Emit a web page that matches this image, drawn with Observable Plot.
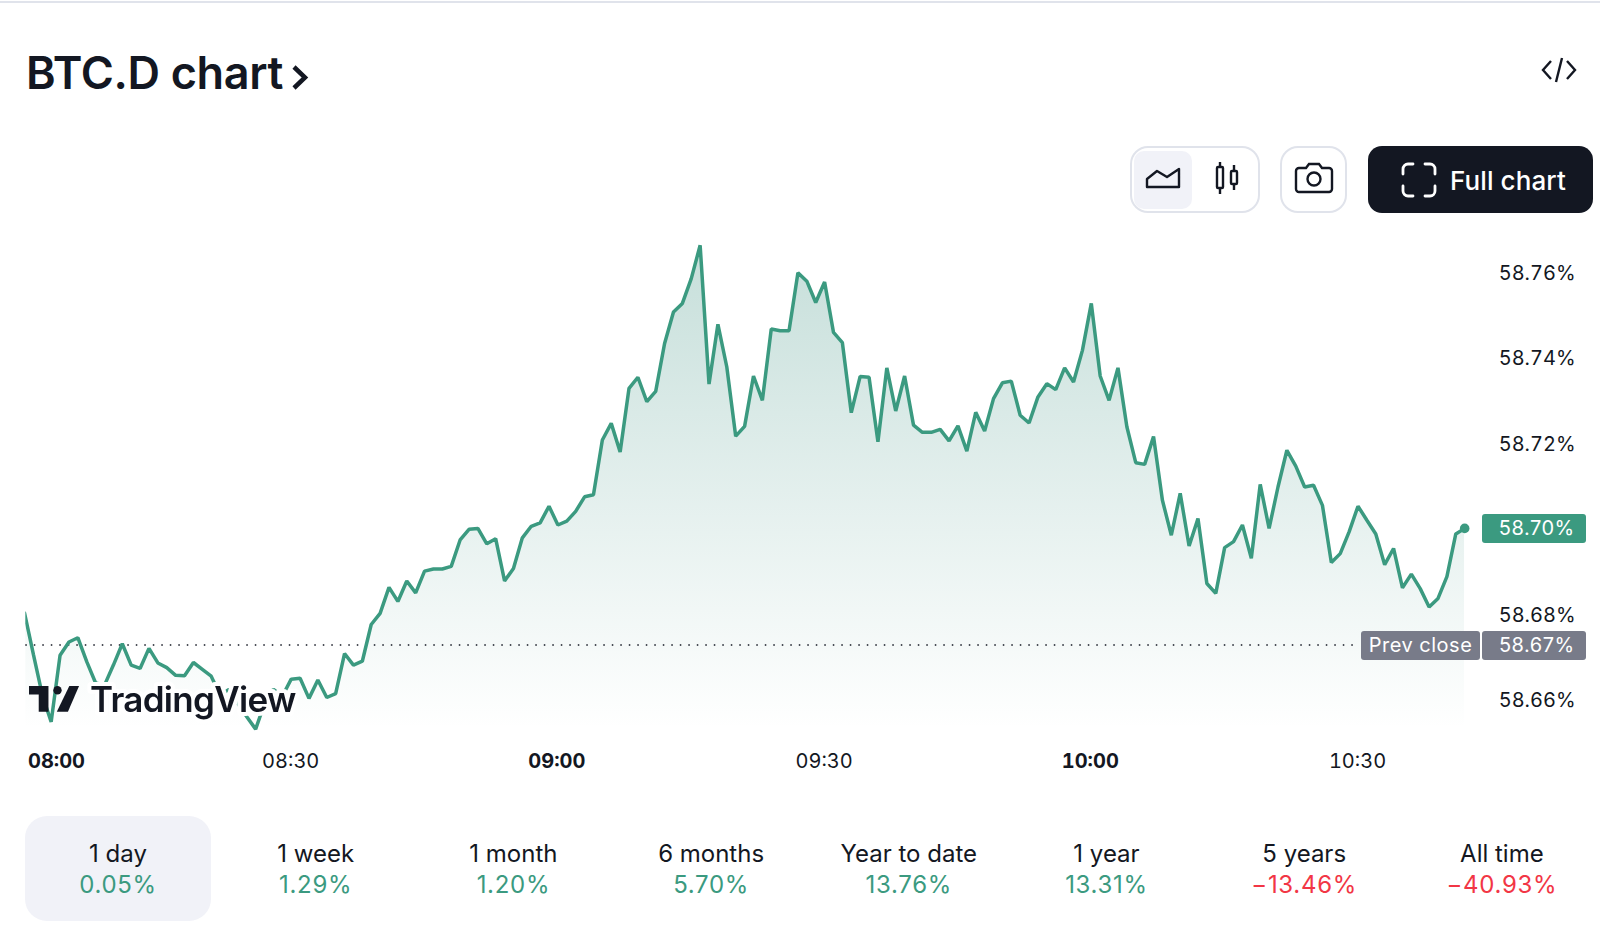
<!DOCTYPE html>
<html><head><meta charset="utf-8">
<script src="https://cdn.jsdelivr.net/npm/d3@7"></script>
<script src="https://cdn.jsdelivr.net/npm/@observablehq/plot@0.6"></script>
<style>
html,body{margin:0;padding:0;background:#fff;width:1600px;height:940px;overflow:hidden;font-family:Inter,"Noto Sans",sans-serif;color:#131722}
.abs{position:absolute}
#topline{left:0;top:1px;width:1600px;height:2px;background:#e0e3eb}
#title{left:26px;top:43px;font-size:45px;font-weight:600;line-height:60px;margin:0;letter-spacing:-0.35px;white-space:nowrap}
.box{border:2px solid #e0e3eb;border-radius:18px;box-sizing:border-box;background:#fff}
#full{left:1368px;top:146px;width:225px;height:67px;background:#131722;border-radius:14px;color:#fff}
#full span{position:absolute;left:82px;top:1px;line-height:67px;font-size:26px;font-weight:500;white-space:nowrap;letter-spacing:.1px}
#plot{left:0;top:230px}
.tag{position:absolute;color:#fff;font-size:20px;text-align:center;box-sizing:border-box;height:29px;line-height:29px;border-radius:3px;letter-spacing:.5px}
.tab{position:absolute;top:816px;width:186px;height:105px;text-align:center;font-size:24px;border-radius:22px}
.tab div:first-child{position:absolute;left:-20px;right:-20px;top:23px;line-height:30px;color:#131722}
.tab div:last-child{position:absolute;left:-20px;right:-20px;top:54px;line-height:30px;letter-spacing:.7px}
</style></head>
<body>
<div id="topline" class="abs"></div>
<h1 id="title" class="abs">BTC.D chart</h1>
<svg class="abs" style="left:290px;top:62px" width="22" height="30" viewBox="0 0 22 30" fill="none" stroke="#131722" stroke-width="4.5"><path d="M4 5l11 10.500L4 26"/></svg>
<svg class="abs" style="left:1540px;top:55px" width="38" height="30" viewBox="0 0 38 30" fill="none" stroke="#131722" stroke-width="2.4"><path d="M11 6L3 15l8 9M27 6l8 9-8 9M22 3l-6 24"/></svg>

<div class="abs box" style="left:1130px;top:146px;width:130px;height:67px"></div>
<div class="abs" style="left:1134px;top:151px;width:58px;height:58px;background:#f1f2f8;border-radius:10px"></div>
<svg class="abs" style="left:1144px;top:164px" width="38" height="30" viewBox="0 0 38 30" fill="none" stroke="#131722" stroke-width="2.4"><path d="M3 23V15L13 7l10 6L35 5v18z" stroke-linejoin="round"/></svg>
<svg class="abs" style="left:1212px;top:160px" width="30" height="38" viewBox="0 0 30 38" fill="none" stroke="#131722" stroke-width="2.4"><rect x="5" y="7" width="6" height="21" rx="1"/><path d="M8 2v5M8 28v6"/><rect x="19" y="11" width="6" height="13" rx="1"/><path d="M22 5v6M22 24v6"/></svg>
<div class="abs box" style="left:1280px;top:146px;width:67px;height:67px"></div>
<svg class="abs" style="left:1294px;top:162px" width="40" height="34" viewBox="0 0 40 34" fill="none" stroke="#131722" stroke-width="2.4"><path d="M5 6h7l3-4h10l3 4h7a3 3 0 0 1 3 3v18a3 3 0 0 1-3 3H5a3 3 0 0 1-3-3V9a3 3 0 0 1 3-3z"/><circle cx="20" cy="17" r="6.500"/></svg>
<div id="full" class="abs"><svg class="abs" style="left:33px;top:16px" width="36" height="36" viewBox="0 0 36 36" fill="none" stroke="#fff" stroke-width="2.8" stroke-linecap="round"><path d="M2 12V7a5 5 0 0 1 5-5h5M24 2h5a5 5 0 0 1 5 5v5M34 24v5a5 5 0 0 1-5 5h-5M12 34H7a5 5 0 0 1-5-5v-5"/></svg><span>Full chart</span></div>

<div id="plot" class="abs"></div>
<div id="tabs"></div>

<script>
const closeValues = [
58.6805,58.6708,58.6613,58.6550,58.6706,58.6737,58.6747,58.6691,58.6641,58.6636,
58.6683,58.6733,58.6683,58.6675,58.6722,58.6688,58.6677,58.6659,58.6658,58.6689,
58.6673,58.6657,58.6613,58.6626,58.6593,58.6562,58.6533,58.6593,58.6626,58.6610,
58.6650,58.6652,58.6605,58.6648,58.6607,58.6616,58.6710,58.6683,58.6692,58.6778,
58.6804,58.6865,58.6832,58.6880,58.6852,58.6903,58.6908,58.6908,58.6914,58.6976,
58.7001,58.7003,58.6967,58.6979,58.6880,58.6909,58.6981,58.7008,58.7016,58.7055,
58.7011,58.7020,58.7043,58.7077,58.7082,58.7210,58.7249,58.7182,58.7331,58.7357,
58.7300,58.7324,58.7436,58.7510,58.7530,58.7588,58.7666,58.7341,58.7481,58.7381,
58.7219,58.7242,58.7360,58.7303,58.7470,58.7466,58.7466,58.7602,58.7582,58.7532,
58.7580,58.7462,58.7438,58.7274,58.7359,58.7357,58.7206,58.7379,58.7278,58.7360,
58.7245,58.7228,58.7228,58.7235,58.7208,58.7243,58.7184,58.7275,58.7231,58.7307,
58.7344,58.7348,58.7268,58.7250,58.7311,58.7342,58.7328,58.7379,58.7346,58.7420,
58.7530,58.7360,58.7303,58.7379,58.7241,58.7157,58.7153,58.7218,58.7069,58.6987,
58.7085,58.6962,58.7026,58.6874,58.6851,58.6958,58.6972,58.7011,58.6933,58.7106,
58.7003,58.7100,58.7186,58.7149,58.7100,58.7104,58.7057,58.6923,58.6944,58.6995,
58.7055,58.7022,58.6990,58.6918,58.6956,58.6864,58.6896,58.6862,58.6819,58.6839,
58.6890,58.6990,58.7003];
const prevClose = 58.673;
const priceTicks = [58.66,58.68,58.72,58.74,58.76];
const minorTimes = [30,90,150];
const minorLabels = ["08:30","09:30","10:30"];
const majorTimes = [60,120];
const majorLabels = ["09:00","10:00"];
const tabNames = ["1 day","1 week","1 month","6 months","Year to date","1 year","5 years","All time"];
const tabValues = ["0.05%","1.29%","1.20%","5.70%","13.76%","13.31%","−13.46%","−40.93%"];

const GREEN = "#3b9a80", RED = "#f23645", INK = "#131722", GREY = "#787b89";
const rows = closeValues.map((v,i)=>({t:i,v}));
const lbl = (ts,ls)=>t=>ls[ts.indexOf(t)];

const gradient = () => {
  const d = d3.create("svg:defs");
  const g = d.append("linearGradient").attr("id","fade").attr("x1",0).attr("x2",0).attr("y1",0).attr("y2",1);
  g.append("stop").attr("offset","0%").attr("stop-color","#3b9080").attr("stop-opacity",.29);
  g.append("stop").attr("offset","100%").attr("stop-color","#3b9080").attr("stop-opacity",0);
  return d.node();
};

const axisText = {fontFamily:"Inter",fontSize:20,tickSize:0,fill:INK,label:null};
const chart = Plot.plot({
  width:1600,height:540,
  marginLeft:25.3,marginRight:135.82,marginTop:0,marginBottom:27.3,
  style:{background:"transparent",fontFamily:"Inter",color:INK,overflow:"visible"},
  x:{domain:[0.146,162],label:null},
  y:{domain:[58.65,58.77007],label:null},
  marks:[
    gradient,
    Plot.areaY(rows,{x:"t",y:"v",y1:58.6535,fill:"url(#fade)",clip:true}),
    Plot.ruleY([prevClose],{x1:0.146,x2:150.2,stroke:INK,strokeWidth:1.5,strokeDasharray:"1.5 7"}),
    Plot.lineY(rows,{x:"t",y:"v",stroke:GREEN,strokeWidth:3.5,strokeLinejoin:"miter",clip:true}),
    Plot.dot(rows.slice(-1),{x:"t",y:"v",r:4.8,fill:GREEN}),
    Plot.axisY(priceTicks,{...axisText,anchor:"right",tickPadding:34,tickFormat:d=>d.toFixed(2)+"%",letterSpacing:.2}),
    Plot.axisX(minorTimes,{...axisText,tickPadding:11,dx:-0.5,tickFormat:lbl(minorTimes,minorLabels)}),
    Plot.axisX(majorTimes,{...axisText,fontWeight:700,letterSpacing:.5,tickPadding:11,dx:-1,tickFormat:lbl(majorTimes,majorLabels)}),
    Plot.axisX([0],{...axisText,fontWeight:700,letterSpacing:.5,tickPadding:11,dx:32,tickFormat:()=>"08:00"})
  ]
});
document.getElementById("plot").appendChild(chart);

const host = document.getElementById("plot");
const yPx = v => chart.scale("y").apply(v);
function tag(text,left,width,v,bg,pad){
  const el=document.createElement("div");el.className="tag";el.textContent=text;
  el.style.cssText=`left:${left}px;width:${width}px;top:${yPx(v)-13.5}px;background:${bg};padding-left:${pad}px`;
  host.appendChild(el);
}
tag(closeValues.at(-1).toFixed(2)+"%",1482,103.5,closeValues.at(-1),GREEN,6);
tag("Prev close",1361,119,prevClose,GREY,0);
tag(prevClose.toFixed(2)+"%",1482,103.5,prevClose,GREY,6);

const wm = document.createElementNS("http://www.w3.org/2000/svg","svg");
wm.setAttribute("width",320);wm.setAttribute("height",70);
wm.style.cssText="left:20px;top:670px;position:fixed";
wm.innerHTML=`<g transform="translate(9,16) scale(1.39,1.43)"><path d="M14 0H0v6h7v12h7z" fill="#131722"/><circle cx="20.500" cy="3" r="3" fill="#131722"/><path d="M29 0h7l-8 18h-8z" fill="#131722"/></g>
<text x="70" y="42" font-family="Inter" font-weight="600" font-size="35" letter-spacing="-.7" fill="#131722" stroke="#fff" stroke-width="8" stroke-linejoin="round" paint-order="stroke">TradingView</text>`;
document.body.appendChild(wm);

const tabs=document.getElementById("tabs");
tabNames.forEach((n,i)=>{
  const d=document.createElement("div");d.className="tab";
  d.style.left=(25+197.7*i)+"px";
  if(i===0)d.style.background="#f1f2f8";
  const a=document.createElement("div");a.textContent=n;
  const b=document.createElement("div");b.textContent=tabValues[i];
  b.style.color=tabValues[i].startsWith("−")?RED:GREEN;
  d.append(a,b);tabs.appendChild(d);
});
</script>
</body></html>
